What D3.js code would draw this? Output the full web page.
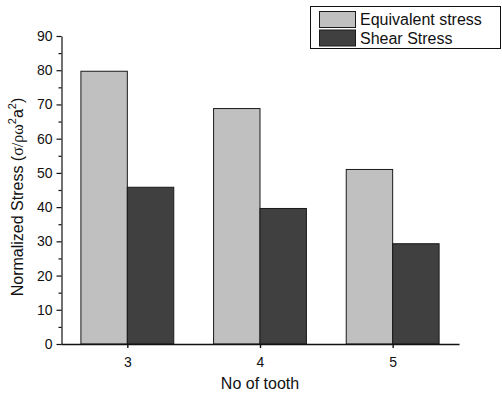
<!DOCTYPE html>
<html>
<head>
<meta charset="utf-8">
<script src="https://cdn.jsdelivr.net/npm/d3@7/dist/d3.min.js"></script>
<style>
  html, body { margin: 0; padding: 0; background: #fff; }
  svg { display: block; font-family: Arial, "Liberation Sans", sans-serif; }
</style>
</head>
<body>
<svg id="chart" width="502" height="394"></svg>
<script>
// Number of teeth on the x axis
const teeth = [3, 4, 5];
// Normalized stress for each tooth count
const equivalentStress = [79.7, 68.8, 51.0];
const shearStress = [45.8, 39.6, 29.3];
const seriesNames = ["Equivalent stress", "Shear Stress"];
const seriesColors = ["#c0c0c0", "#404040"];
const yMajorTicks = [0, 10, 20, 30, 40, 50, 60, 70, 80, 90];
const yMinorTicks = [5, 15, 25, 35, 45, 55, 65, 75, 85];

const svg = d3.select("#chart");

const x = d3.scaleLinear().domain([2.5, 5.5]).range([61, 459]);
const y = d3.scaleLinear().domain([0, 90]).range([344, 36]);
const barW = 0.35; // bar width in x-axis units

const series = [equivalentStress, shearStress];

// Bars: equivalent stress on the left of each tick, shear stress on the right
series.forEach((vals, si) => {
  svg.append("g")
    .selectAll("rect")
    .data(teeth.map((t, i) => ({ t, v: vals[i] })))
    .join("rect")
    .attr("x", d => x(si === 0 ? d.t - barW : d.t))
    .attr("y", d => y(d.v))
    .attr("width", d => x(d.t + barW) - x(d.t))
    .attr("height", d => y(0) - y(d.v))
    .attr("fill", seriesColors[si])
    .attr("stroke", "#1a1a1a")
    .attr("stroke-width", 1);
});

const font = "Arial, 'Liberation Sans', sans-serif";

// Y axis with minor ticks
const yAxis = svg.append("g").attr("transform", "translate(61.5,0)");
yAxis.call(d3.axisLeft(y).tickValues(yMajorTicks).tickSize(5).tickSizeOuter(0).tickPadding(4));
yAxis.append("g").call(d3.axisLeft(y).tickValues(yMinorTicks).tickSize(3).tickFormat(""))
  .select(".domain").remove();
yAxis.selectAll("text").attr("font-size", 14).attr("fill", "#111").attr("font-family", font);
yAxis.selectAll("line, path").attr("stroke", "#111").attr("stroke-width", 1.2);

// X axis
const xAxis = svg.append("g").attr("transform", "translate(0,344)");
xAxis.call(d3.axisBottom(x).tickValues(teeth).tickSize(4).tickSizeOuter(0).tickPadding(9).tickFormat(d3.format("d")));
xAxis.selectAll("text").attr("font-size", 14).attr("fill", "#111").attr("font-family", font);
xAxis.selectAll("line, path").attr("stroke", "#111").attr("stroke-width", 1.4);

// Axis titles
svg.append("text")
  .attr("x", 260).attr("y", 389)
  .attr("text-anchor", "middle")
  .attr("font-size", 16).attr("fill", "#111")
  .text("No of tooth");

const yTitle = svg.append("text")
  .attr("transform", "translate(23,197) rotate(-90)")
  .attr("text-anchor", "middle")
  .attr("font-size", 16).attr("fill", "#111");
yTitle.append("tspan").text("Normalized Stress (");
yTitle.append("tspan").attr("font-family", "'Liberation Serif', 'DejaVu Serif', serif").text("σ/ρω");
yTitle.append("tspan").attr("font-size", 11).attr("dy", -7).text("2");
yTitle.append("tspan").attr("dy", 7).text("a");
yTitle.append("tspan").attr("font-size", 11).attr("dy", -7).text("2");
yTitle.append("tspan").attr("dy", 7).text(")");

// Legend
const legend = svg.append("g");
legend.append("rect")
  .attr("x", 310.5).attr("y", 6.5).attr("width", 190).attr("height", 42)
  .attr("fill", "#fff").attr("stroke", "#111").attr("stroke-width", 1);
seriesNames.forEach((name, i) => {
  legend.append("rect")
    .attr("x", 319.5).attr("y", 11.5 + i * 18.5).attr("width", 36).attr("height", 16)
    .attr("fill", seriesColors[i]).attr("stroke", "#1a1a1a").attr("stroke-width", 1);
  legend.append("text")
    .attr("x", 360).attr("y", 25 + i * 18.5)
    .attr("font-size", 16).attr("fill", "#111")
    .text(name);
});
</script>
</body>
</html>
